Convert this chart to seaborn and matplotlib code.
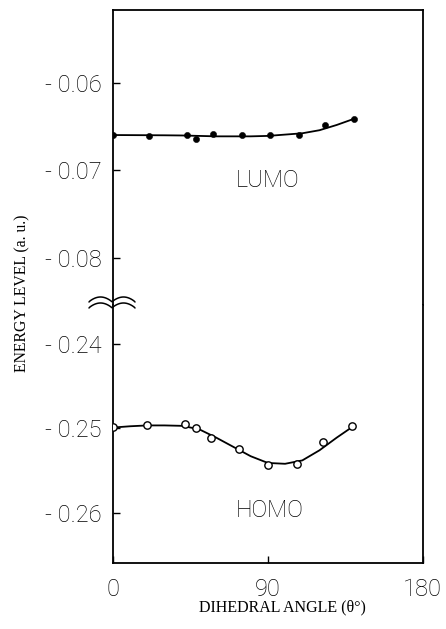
import numpy as np
import pandas as pd
import seaborn as sns
import matplotlib.pyplot as plt
from matplotlib.lines import Line2D

# dihedral angles (deg) of the computed points
lumo_angle = [0, 21, 43, 48, 58, 75, 91, 108, 123, 140]
lumo_energy = [-0.06594, -0.06601, -0.06594, -0.06643, -0.06582, -0.0659,
               -0.0659, -0.0659, -0.0648, -0.06407]
homo_angle = [0, 20, 42, 48, 57, 73, 90, 107, 122, 139]
homo_energy = [-0.2498, -0.2496, -0.24945, -0.2499, -0.2511, -0.2525,
               -0.2544, -0.2542, -0.2516, -0.2497]

# smooth fitted curves
curve_angle = [0, 10, 20, 30, 40, 50, 60, 70, 80, 90, 100, 110, 120, 130, 140]
lumo_curve = [-0.06595, -0.06596, -0.06597, -0.06598, -0.0660, -0.06605, -0.0661,
              -0.0661, -0.0661, -0.06605, -0.0659, -0.06575, -0.0654, -0.0648, -0.0641]
homo_curve = [-0.2499, -0.24975, -0.24965, -0.24965, -0.2497, -0.2501, -0.2511,
              -0.2522, -0.2533, -0.2541, -0.2542, -0.2538, -0.2526, -0.2511, -0.2497]

x_ticks = [0, 90, 180]
upper_ticks = [-0.06, -0.07, -0.08]
lower_ticks = [-0.24, -0.25, -0.26]

sns.set_theme(style="ticks")
plt.rcParams['font.family'] = ['Roboto', 'DejaVu Sans']
plt.rcParams['font.weight'] = 'light'
plt.rcParams['text.color'] = 'black'
plt.rcParams['xtick.color'] = 'black'
plt.rcParams['ytick.color'] = 'black'

fig = plt.figure(figsize=(4.46, 6.29), dpi=100)
ax_top = fig.add_axes([0.2534, 0.5151, 0.6944, 0.4685])
ax_bot = fig.add_axes([0.2534, 0.1054, 0.6944, 0.4097])

lumo = pd.DataFrame({"angle": lumo_angle, "energy": lumo_energy})
homo = pd.DataFrame({"angle": homo_angle, "energy": homo_energy})
lcurve = pd.DataFrame({"angle": curve_angle, "energy": lumo_curve})
hcurve = pd.DataFrame({"angle": curve_angle, "energy": homo_curve})

sns.lineplot(data=lcurve, x="angle", y="energy", ax=ax_top, color="black", lw=1.3)
sns.scatterplot(data=lumo, x="angle", y="energy", ax=ax_top, color="black",
                s=20, edgecolor="black", zorder=3)
sns.lineplot(data=hcurve, x="angle", y="energy", ax=ax_bot, color="black", lw=1.3)
sns.scatterplot(data=homo, x="angle", y="energy", ax=ax_bot, facecolor="white",
                edgecolor="black", linewidth=1.0, s=28, zorder=3)

for ax in (ax_top, ax_bot):
    ax.set_xlim(0, 180)
    ax.set_xlabel("")
    ax.set_ylabel("")
    for sp in ax.spines.values():
        sp.set_linewidth(1.3)
        sp.set_color("black")
    ax.tick_params(direction="in", length=5, width=1.0, labelsize=17,
                   colors="black", labelcolor="black")

ax_top.set_ylim(-0.08537, -0.0517)
ax_bot.set_ylim(-0.26593, -0.23537)
ax_top.spines["bottom"].set_visible(False)
ax_bot.spines["top"].set_visible(False)
ax_top.set_xticks([])
ax_bot.set_xticks(x_ticks)
ax_bot.set_xticklabels([str(t) for t in x_ticks])
ax_bot.tick_params(axis="x", pad=11)
ax_top.set_yticks(upper_ticks)
ax_top.set_yticklabels(["- 0.06", "- 0.07", "- 0.08"])
ax_bot.set_yticks(lower_ticks)
ax_bot.set_yticklabels(["- 0.24", "- 0.25", "- 0.26"])
ax_top.tick_params(axis="y", pad=8)
ax_bot.tick_params(axis="y", pad=8)

ax_top.text(90, -0.0712, "LUMO", fontsize=17, ha="center", va="center")
ax_bot.text(91, -0.2597, "HOMO", fontsize=17, ha="center", va="center")

# axis break marks on the left spine
bx = np.linspace(89, 135, 80)
wave = 5 * np.abs(np.sin((bx - 89) / 46 * 2 * np.pi)) ** 0.8
for off in (302, 308):
    fig.add_artist(Line2D(bx / 446, 1 - (off - wave) / 629, color="black",
                          lw=1.1, transform=fig.transFigure))

fig.text(282 / 446, 1 - 607 / 629, "DIHEDRAL ANGLE (\u03b8\u00b0)", ha="center",
         va="center", fontsize=11.5, weight="normal", family=["Liberation Serif"])
fig.text(22 / 446, 1 - 293 / 629, "ENERGY LEVEL (a. u.)", ha="center", va="center",
         rotation=90, fontsize=11.3, weight="normal", family=["Liberation Serif"])

fig.savefig("out.png", dpi=100, facecolor="white")
